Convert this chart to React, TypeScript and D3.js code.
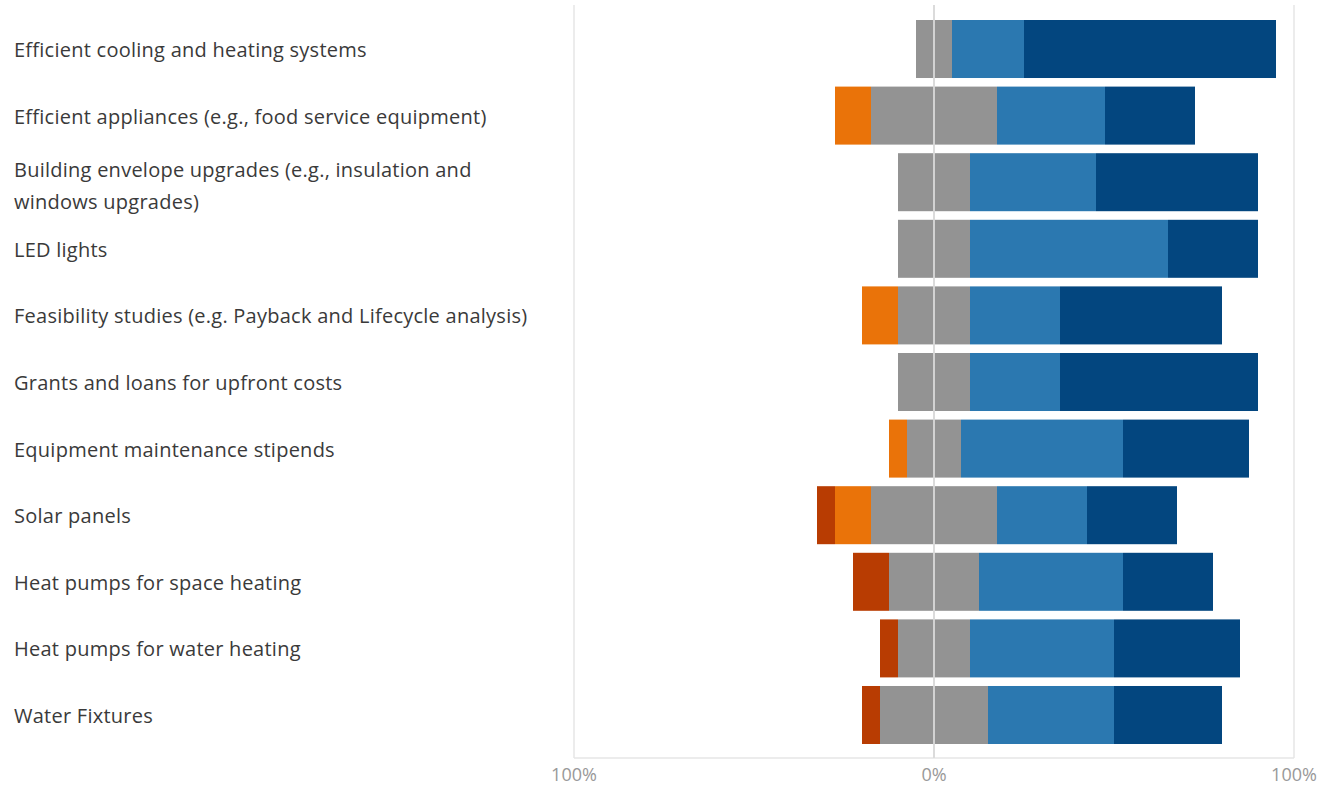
import React from "react";
import * as d3 from "d3";

const categories = [
  "Efficient cooling and heating systems",
  "Efficient appliances (e.g., food service equipment)",
  "Building envelope upgrades (e.g., insulation and|windows upgrades)",
  "LED lights",
  "Feasibility studies (e.g. Payback and Lifecycle analysis)",
  "Grants and loans for upfront costs",
  "Equipment maintenance stipends",
  "Solar panels",
  "Heat pumps for space heating",
  "Heat pumps for water heating",
  "Water Fixtures",
];
const stronglyNegative = [0, 0, 0, 0, 0, 0, 0, 5, 10, 5, 5];
const negative = [0, 10, 0, 0, 10, 0, 5, 10, 0, 0, 0];
const neutral = [10, 35, 20, 20, 20, 20, 15, 35, 25, 20, 30];
const positive = [20, 30, 35, 55, 25, 25, 45, 25, 40, 40, 35];
const stronglyPositive = [70, 25, 45, 25, 45, 55, 35, 25, 25, 35, 30];
const tickValues = [-100, 0, 100];
const tickLabels = ["100%", "0%", "100%"];
const colors = ["#b83c02", "#ea7309", "#939393", "#2b78b0", "#03467f"];

export default function App() {
  const W = 1336, H = 787;
  const x = d3.scaleLinear().domain([-100, 100]).range([574, 1294]);
  const y = d3.scaleBand<number>().domain(d3.range(categories.length)).range([20, 744]).paddingInner(0.129).paddingOuter(0);
  const font = "'Open Sans', 'Noto Sans', sans-serif";
  const rows = categories.map((c, i) => {
    const start = -(stronglyNegative[i] + negative[i] + neutral[i] / 2);
    const vals = [stronglyNegative[i], negative[i], neutral[i], positive[i], stronglyPositive[i]];
    let acc = start;
    const segs = vals.map((v, k) => {
      const s = { x0: acc, x1: acc + v, color: colors[k] };
      acc += v;
      return s;
    });
    return { c, segs };
  });
  return (
    <svg width={W} height={H} style={{ position: "absolute", left: 0, top: 0, background: "#fff" }}>
      {tickValues.map((t) => (
        <line key={"g" + t} x1={x(t)} x2={x(t)} y1={5} y2={758} stroke="#e6e6e6" strokeWidth={1.5} />
      ))}
      <line x1={x(-100)} x2={x(100)} y1={758} y2={758} stroke="#e6e6e6" strokeWidth={1.5} />
      {rows.map((r, i) => (
        <g key={i}>
          {r.segs.filter((s) => s.x1 > s.x0).map((s, k) => (
            <rect key={k} x={x(s.x0)} width={x(s.x1) - x(s.x0)} y={y(i)!} height={y.bandwidth()} fill={s.color} />
          ))}
        </g>
      ))}
      <line x1={x(0)} x2={x(0)} y1={5} y2={758} stroke="#d9d9d9" strokeOpacity={0.9} strokeWidth={2} />
      {rows.map((r, i) => {
        const lines = r.c.split("|");
        const cy = y(i)! + y.bandwidth() / 2 + (lines.length > 1 ? 3 : 0);
        const lh = 32;
        return (
          <text key={"t" + i} x={14} fontFamily={font} fontSize={20} letterSpacing={0.25} fill="#3a3a3a" dominantBaseline="central">
            {lines.map((l, j) => (
              <tspan key={j} x={14} y={cy + (j - (lines.length - 1) / 2) * lh}>{l}</tspan>
            ))}
          </text>
        );
      })}
      {tickValues.map((t, i) => (
        <text key={"l" + i} x={x(t)} y={774} textAnchor="middle" dominantBaseline="central" fontFamily={font} fontSize={18} fill="#999">
          {tickLabels[i]}
        </text>
      ))}
    </svg>
  );
}
